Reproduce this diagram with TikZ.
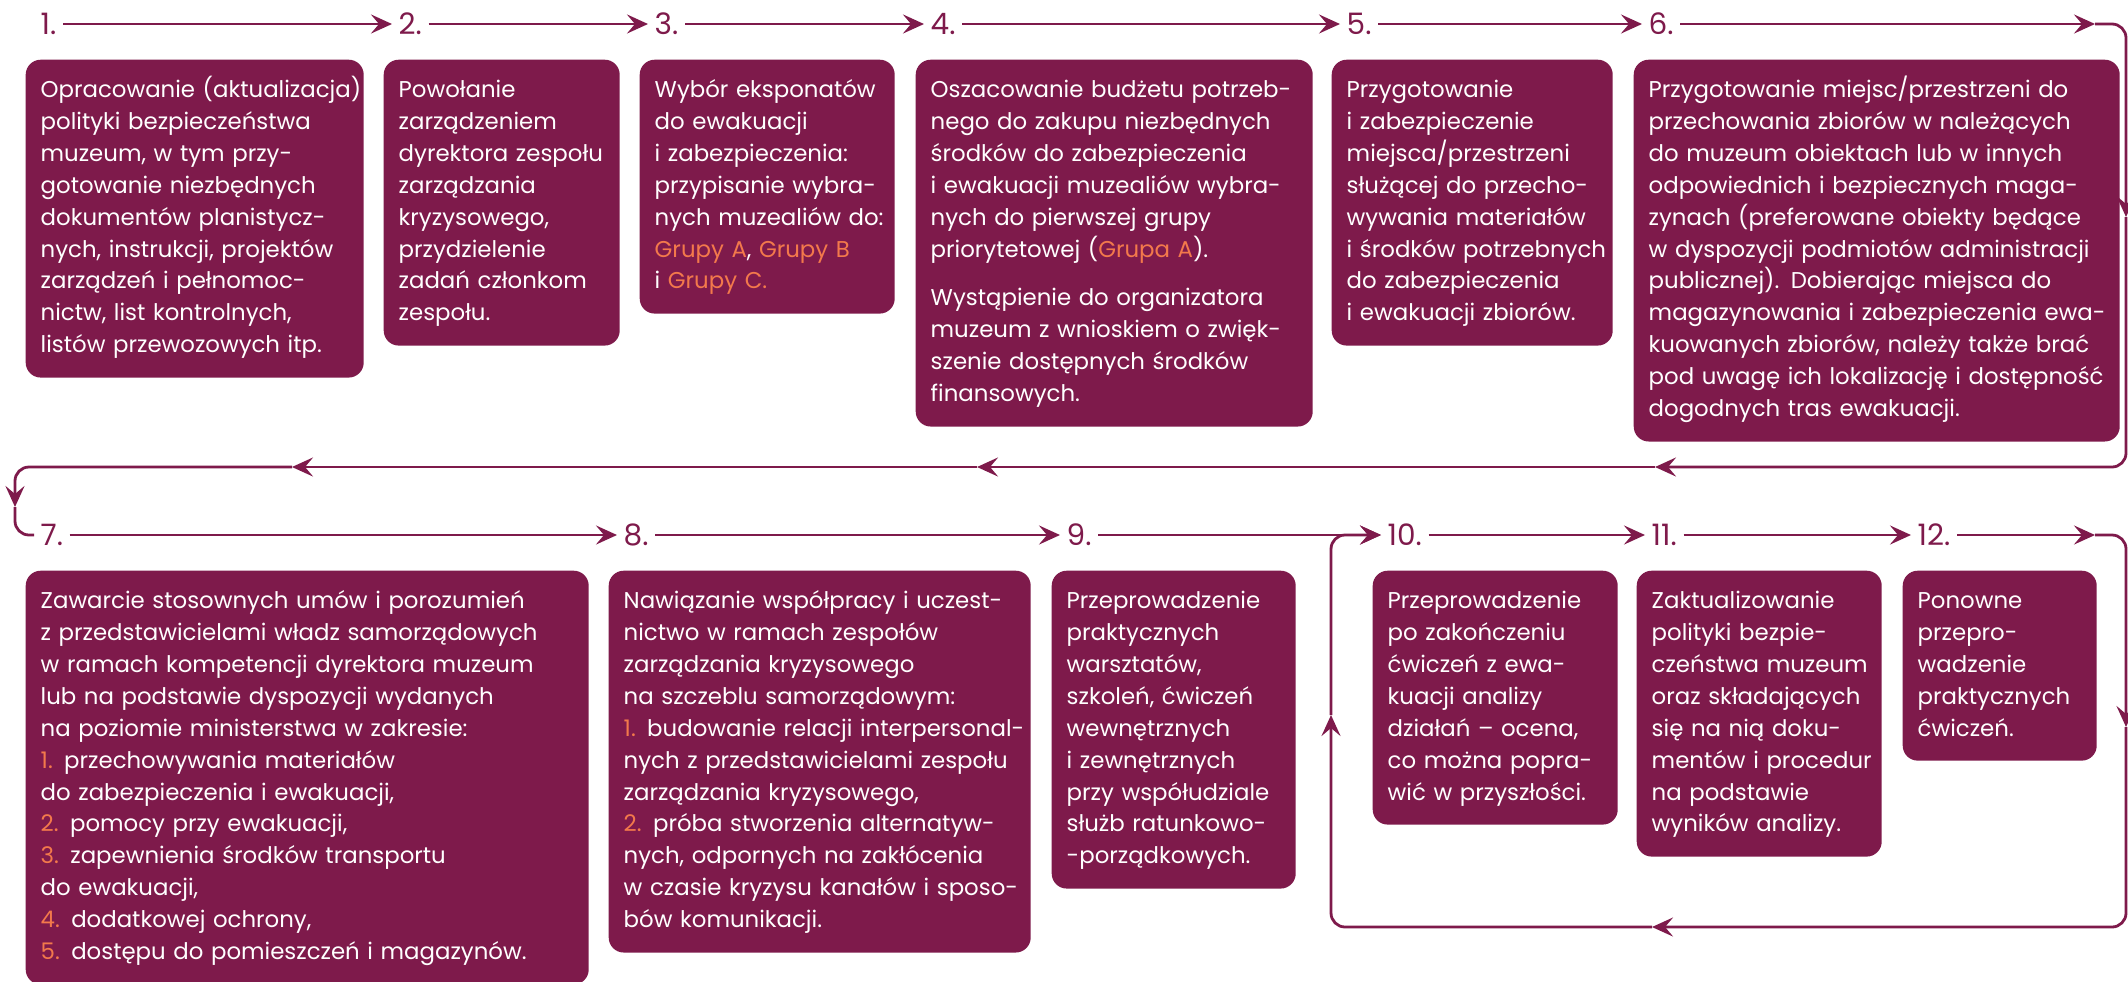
\documentclass[tikz,border=0pt]{standalone}
\usepackage{fontspec}
\setmainfont{Poppins}
\usetikzlibrary{arrows.meta}
\definecolor{PlumBox}{RGB}{126,26,75}
\definecolor{OrangeMark}{RGB}{243,121,75}
\newcommand{\orng}[1]{\textcolor{OrangeMark}{#1}}
\newcommand{\boxlines}[1]{\begin{tabular}{@{}l@{}}#1\end{tabular}}

\begin{document}
\begin{tikzpicture}[
  stepbox/.style={fill=PlumBox, rounded corners=0.15cm, text=white, anchor=north west,
    align=left, text width=#1, inner xsep=0.15cm, inner ysep=0.15cm,
    font=\fontsize{6.5}{9.1}\selectfont},
  steplabel/.style={text=PlumBox, anchor=west, inner xsep=0.06cm,
    font=\fontsize{8.4}{9}\selectfont},
  flow/.style={draw=PlumBox, line width=0.028cm, rounded corners=0.14cm,
    -{Stealth[length=0.21cm, width=0.19cm, inset=0.08cm]}},
  plainflow/.style={draw=PlumBox, line width=0.028cm, rounded corners=0.14cm}]
  \useasboundingbox (0,0) rectangle (21.28,-9.81);

  \node[steplabel] (n1) at (0.34,-0.24) {1.};
  \node[steplabel] (n2) at (3.92,-0.24) {2.};
  \node[steplabel] (n3) at (6.48,-0.24) {3.};
  \node[steplabel] (n4) at (9.24,-0.24) {4.};
  \node[steplabel] (n5) at (13.40,-0.24) {5.};
  \node[steplabel] (n6) at (16.42,-0.24) {6.};
  \node[steplabel] (n7) at (0.34,-5.35) {7.};
  \node[steplabel] (n8) at (6.17,-5.35) {8.};
  \node[steplabel] (n9) at (10.60,-5.35) {9.};
  \node[steplabel] (n10) at (13.81,-5.35) {10.};
  \node[steplabel] (n11) at (16.45,-5.35) {11.};
  \node[steplabel] (n12) at (19.11,-5.35) {12.};

  \node[stepbox=3.08cm] (s1) at (0.25,-0.59)
    {\boxlines{Opracowanie (aktualizacja)\\polityki bezpieczeństwa\\muzeum, w tym przy-\\gotowanie niezbędnych\\dokumentów planistycz-\\nych, instrukcji, projektów\\zarządzeń i pełnomoc-\\nictw, list kontrolnych,\\listów przewozowych itp.}};
  \node[stepbox=2.06cm] (s2) at (3.83,-0.59)
    {\boxlines{Powołanie\\zarządzeniem\\dyrektora zespołu\\zarządzania\\kryzysowego,\\przydzielenie\\zadań członkom\\zespołu.}};
  \node[stepbox=2.25cm] (s3) at (6.39,-0.59)
    {\boxlines{Wybór eksponatów\\do ewakuacji\\i zabezpieczenia:\\przypisanie wybra-\\nych muzealiów do:\\\orng{Grupy A}, \orng{Grupy B}\\i \orng{Grupy C.}}};
  \node[stepbox=3.67cm] (s4) at (9.15,-0.59)
    {\boxlines{Oszacowanie budżetu potrzeb-\\nego do zakupu niezbędnych\\środków do zabezpieczenia\\i ewakuacji muzealiów wybra-\\nych do pierwszej grupy\\priorytetowej (\orng{Grupa A}).\\[0.17cm]Wystąpienie do organizatora\\muzeum z wnioskiem o zwięk-\\szenie dostępnych środków\\finansowych.}};
  \node[stepbox=2.51cm] (s5) at (13.31,-0.59)
    {\boxlines{Przygotowanie\\i zabezpieczenie\\miejsca/przestrzeni\\służącej do przecho-\\wywania materiałów\\i środków potrzebnych\\do zabezpieczenia\\i ewakuacji zbiorów.}};
  \node[stepbox=4.56cm] (s6) at (16.33,-0.59)
    {\boxlines{Przygotowanie miejsc/przestrzeni do\\przechowania zbiorów w należących\\do muzeum obiektach lub w innych\\odpowiednich i bezpiecznych maga-\\zynach (preferowane obiekty będące\\w dyspozycji podmiotów administracji\\publicznej). Dobierając miejsca do\\magazynowania i zabezpieczenia ewa-\\kuowanych zbiorów, należy także brać\\pod uwagę ich lokalizację i dostępność\\dogodnych tras ewakuacji.}};

  \node[stepbox=5.33cm] (s7) at (0.25,-5.70)
    {\boxlines{Zawarcie stosownych umów i porozumień\\z przedstawicielami władz samorządowych\\w ramach kompetencji dyrektora muzeum\\lub na podstawie dyspozycji wydanych\\na poziomie ministerstwa w zakresie:\\\orng{1.} przechowywania materiałów\\do zabezpieczenia i ewakuacji,\\\orng{2.} pomocy przy ewakuacji,\\\orng{3.} zapewnienia środków transportu\\do ewakuacji,\\\orng{4.} dodatkowej ochrony,\\\orng{5.} dostępu do pomieszczeń i magazynów.}};
  \node[stepbox=3.92cm] (s8) at (6.08,-5.70)
    {\boxlines{Nawiązanie współpracy i uczest-\\nictwo w ramach zespołów\\zarządzania kryzysowego\\na szczeblu samorządowym:\\\orng{1.} budowanie relacji interpersonal-\\nych z przedstawicielami zespołu\\zarządzania kryzysowego,\\\orng{2.} próba stworzenia alternatyw-\\nych, odpornych na zakłócenia\\w czasie kryzysu kanałów i sposo-\\bów komunikacji.}};
  \node[stepbox=2.14cm] (s9) at (10.51,-5.70)
    {\boxlines{Przeprowadzenie\\praktycznych\\warsztatów,\\szkoleń, ćwiczeń\\wewnętrznych\\i zewnętrznych\\przy współudziale\\służb ratunkowo-\\-porządkowych.}};
  \node[stepbox=2.15cm] (s10) at (13.72,-5.70)
    {\boxlines{Przeprowadzenie\\po zakończeniu\\ćwiczeń z ewa-\\kuacji analizy\\działań – ocena,\\co można popra-\\wić w przyszłości.}};
  \node[stepbox=2.15cm] (s11) at (16.36,-5.70)
    {\boxlines{Zaktualizowanie\\polityki bezpie-\\czeństwa muzeum\\oraz składających\\się na nią doku-\\mentów i procedur\\na podstawie\\wyników analizy.}};
  \node[stepbox=1.64cm] (s12) at (19.02,-5.70)
    {\boxlines{Ponowne\\przepro-\\wadzenie\\praktycznych\\ćwiczeń.}};

  \coordinate (t1) at (20.95,-0.24);
  \coordinate (t2) at (21.26,-2.17);
  \coordinate (t3) at (16.55,-4.67);
  \coordinate (t4) at (9.77,-4.67);
  \coordinate (t5) at (2.92,-4.67);
  \coordinate (t6) at (0.15,-5.07);
  \coordinate (t7) at (20.95,-5.35);
  \coordinate (t8) at (21.26,-7.27);
  \coordinate (t9) at (16.52,-9.27);
  \coordinate (t10) at (13.31,-7.15);

  \draw[flow] (n1) -- (n2);
  \draw[flow] (n2) -- (n3);
  \draw[flow] (n3) -- (n4);
  \draw[flow] (n4) -- (n5);
  \draw[flow] (n5) -- (n6);
  \draw[flow] (n6) -- (t1);
  \draw[flow] (t1) -| (t2);
  \draw[flow] (t2) |- (t3);
  \draw[flow] (t3) -- (t4);
  \draw[flow] (t4) -- (t5);
  \draw[flow] (t5) -| (t6);
  \draw[plainflow] (t6) |- (n7);
  \draw[flow] (n7) -- (n8);
  \draw[flow] (n8) -- (n9);
  \draw[flow] (n9) -- (n10);
  \draw[flow] (n10) -- (n11);
  \draw[flow] (n11) -- (n12);
  \draw[flow] (n12) -- (t7);
  \draw[flow] (t7) -| (t8);
  \draw[flow] (t8) |- (t9);
  \draw[flow] (t9) -| (t10);
  \draw[flow] (t10) |- (n10);
\end{tikzpicture}
\end{document}
